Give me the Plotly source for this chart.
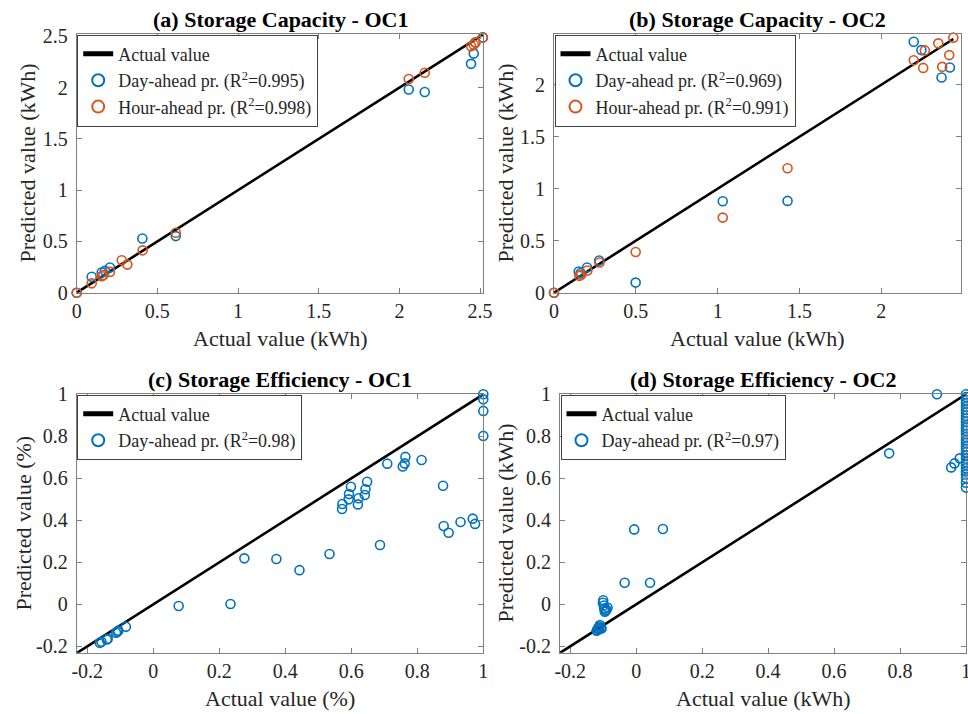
import plotly.graph_objects as go

# ---------------- data ----------------
# (a) Storage Capacity - OC1
a_day_x = [0, 0.093, 0.155, 0.175, 0.206, 0.407, 0.614, 2.058, 2.157, 2.444, 2.461, 2.470, 2.517]
a_day_y = [0, 0.155, 0.197, 0.213, 0.246, 0.529, 0.552, 1.981, 1.958, 2.232, 2.332, 2.440, 2.490]
a_hour_x = [0, 0.093, 0.155, 0.165, 0.206, 0.279, 0.314, 0.409, 0.614, 2.058, 2.157, 2.444, 2.461, 2.471, 2.517]
a_hour_y = [0, 0.091, 0.161, 0.171, 0.203, 0.316, 0.274, 0.413, 0.584, 2.084, 2.145, 2.403, 2.419, 2.439, 2.490]

# (b) Storage Capacity - OC2
b_day_x = [0, 0.151, 0.163, 0.202, 0.276, 0.499, 1.031, 1.427, 2.198, 2.245, 2.270, 2.368, 2.419]
b_day_y = [0, 0.204, 0.190, 0.243, 0.310, 0.097, 0.880, 0.883, 2.414, 2.333, 2.490, 2.069, 2.166]
b_hour_x = [0, 0.155, 0.166, 0.204, 0.278, 0.499, 1.031, 1.427, 2.198, 2.256, 2.266, 2.348, 2.372, 2.415, 2.440]
b_hour_y = [0, 0.162, 0.172, 0.214, 0.291, 0.392, 0.722, 1.197, 2.236, 2.162, 2.330, 2.398, 2.172, 2.285, 2.453]

# (c) Storage Efficiency - OC1
c_day_x = [-0.232, -0.162, -0.157, -0.141, -0.138, -0.113, -0.109, -0.106, -0.083,
           0.077, 0.234, 0.276, 0.373, 0.443, 0.534, 0.572, 0.573, 0.592, 0.593, 0.599,
           0.620, 0.622, 0.641, 0.643, 0.648, 0.687, 0.709, 0.756, 0.762, 0.764, 0.813,
           0.878, 0.880, 0.895, 0.931, 0.968, 0.975, 1.000, 1.000, 1.000, 1.000]
c_day_y = [-0.233, -0.183, -0.178, -0.167, -0.164, -0.135, -0.130, -0.125, -0.106,
           -0.008, 0.002, 0.219, 0.216, 0.163, 0.240, 0.454, 0.478, 0.500, 0.525, 0.560,
           0.476, 0.505, 0.521, 0.548, 0.584, 0.283, 0.670, 0.656, 0.671, 0.702, 0.687,
           0.565, 0.373, 0.341, 0.392, 0.408, 0.383, 1.000, 0.976, 0.921, 0.802]

# (d) Storage Efficiency - OC2
d_day_x = [-0.231, -0.120, -0.118, -0.115, -0.113, -0.112, -0.110, -0.107, -0.105,
           -0.101, -0.100, -0.098, -0.097, -0.095, -0.093, -0.090, -0.087,
           -0.035, -0.006, 0.042, 0.081, 0.767, 0.912, 0.955, 0.965, 0.981,
           1.0, 1.0, 1.0, 1.0, 1.0, 1.0, 1.0, 1.0, 1.0, 1.0, 1.0, 1.0, 1.0, 1.0, 1.0,
           1.0, 1.0, 1.0, 1.0, 1.0, 1.0, 1.0, 1.0, 1.0, 1.0, 1.0, 1.0, 1.0, 1.0, 1.0]
d_day_y = [-0.233, -0.125, -0.122, -0.112, -0.118, -0.105, -0.098, -0.110, -0.115,
           0.008, 0.020, -0.005, -0.020, -0.035, -0.030, -0.025, -0.015,
           0.103, 0.357, 0.103, 0.359, 0.719, 1.000, 0.652, 0.671, 0.695,
           1.000, 0.987, 0.972, 0.958, 0.941, 0.927, 0.913, 0.898, 0.884, 0.869,
           0.853, 0.840, 0.826, 0.811, 0.797, 0.782, 0.768, 0.752, 0.739, 0.724,
           0.709, 0.693, 0.678, 0.664, 0.648, 0.633, 0.619, 0.601, 0.579, 0.556]

x_ticks_cap = [0, 0.5, 1, 1.5, 2, 2.5]
x_ticktext_cap = ["0", "0.5", "1", "1.5", "2", "2.5"]
ticks_eff = [-0.2, 0, 0.2, 0.4, 0.6, 0.8, 1]
ticktext_eff = ["-0.2", "0", "0.2", "0.4", "0.6", "0.8", "1"]

titles = ["(a) Storage Capacity - OC1", "(b) Storage Capacity - OC2",
          "(c) Storage Efficiency - OC1", "(d) Storage Efficiency - OC2"]
xtitles = ["Actual value (kWh)", "Actual value (kWh)", "Actual value (%)", "Actual value (kWh)"]
ytitles = ["Predicted value (kWh)", "Predicted value (kWh)", "Predicted value (%)", "Predicted value (kWh)"]
r2_day = ["0.995", "0.969", "0.98", "0.97"]
r2_hour = ["0.998", "0.991"]

# --------------- styling ----------------
W, H = 968, 714
FONT = "Liberation Serif"
BLUE = "#0072BD"
ORANGE = "#D95319"
AX = "#808080"


def px(sx):
    return sx / W


def py(sy):
    return 1 - sy / H


# plot-area boxes in window pixels (left, right, top, bottom)
boxes = [(76.7, 483.3, 34.3, 292.7), (554.0, 960.7, 34.3, 292.7),
         (76.7, 483.3, 394.3, 652.7), (560.0, 966.0, 394.3, 652.7)]
ranges_x = [[0, 2.52], [0, 2.485], [-0.232, 1.0], [-0.231, 1.0]]
ranges_y = [[0, 2.52], [0, 2.485], [-0.23, 1.0], [-0.23, 1.0]]

fig = go.Figure()

datasets = [
    [(a_day_x, a_day_y, BLUE, r2_day[0]), (a_hour_x, a_hour_y, ORANGE, r2_hour[0])],
    [(b_day_x, b_day_y, BLUE, r2_day[1]), (b_hour_x, b_hour_y, ORANGE, r2_hour[1])],
    [(c_day_x, c_day_y, BLUE, r2_day[2])],
    [(d_day_x, d_day_y, BLUE, r2_day[3])],
]

for i, series in enumerate(datasets):
    sfx = "" if i == 0 else str(i + 1)
    xa, ya = "x" + sfx, "y" + sfx
    leg = "legend" + sfx
    allx = [v for s in series for v in s[0]]
    lo, hi = min(allx), max(allx)
    fig.add_trace(go.Scatter(x=[lo, hi], y=[lo, hi], mode="lines",
                             line=dict(color="black", width=2.6),
                             name="Actual value", xaxis=xa, yaxis=ya, legend=leg,
                             cliponaxis=False))
    for j, (sx, sy, col, r2) in enumerate(series):
        nm = ("Day-ahead pr." if j == 0 else "Hour-ahead pr.") + " (R<sup>2</sup>=" + r2 + ")"
        fig.add_trace(go.Scatter(x=sx, y=sy, mode="markers",
                                 marker=dict(symbol="circle-open", size=9, color=col,
                                             line=dict(width=1.6, color=col)),
                                 name=nm, xaxis=xa, yaxis=ya, legend=leg,
                                 cliponaxis=False))

layout = dict(template="none", width=W, height=H,
              margin=dict(l=0, r=0, t=0, b=0, autoexpand=False),
              paper_bgcolor="white", plot_bgcolor="white",
              font=dict(family=FONT, size=20, color="#262626"),
              showlegend=True)

annotations = []
for i, (l, r, t, b) in enumerate(boxes):
    sfx = "" if i == 0 else str(i + 1)
    if i < 2:
        tv = x_ticks_cap if i == 0 else x_ticks_cap[:-1]
        tt = x_ticktext_cap if i == 0 else x_ticktext_cap[:-1]
    else:
        tv, tt = ticks_eff, ticktext_eff
    common = dict(showline=True, linecolor=AX, linewidth=1, mirror="ticks",
                  ticks="inside", ticklen=5, tickcolor=AX, tickwidth=1,
                  showgrid=False, zeroline=False, automargin=False,
                  ticklabeloverflow="allow",
                  tickfont=dict(family=FONT, size=20, color="#262626"),
                  tickvals=tv, ticktext=tt)
    layout["xaxis" + sfx] = dict(common, domain=[px(l), min(px(r), 1.0)], range=ranges_x[i],
                                 anchor="y" + sfx)
    layout["yaxis" + sfx] = dict(common, domain=[py(b), py(t)], range=ranges_y[i],
                                 anchor="x" + sfx, ticklabelstandoff=4)
    layout["legend" + sfx] = dict(x=px(l + 0.5), y=py(t + 0.3), xanchor="left",
                                  yanchor="top", bgcolor="white", bordercolor="#404040",
                                  borderwidth=1, font=dict(family=FONT, size=18, color="#262626"),
                                  tracegroupgap=0, itemsizing="constant")
    cx = (l + r) / 2
    annotations.append(dict(text="<b>" + titles[i] + "</b>", x=px(cx), y=py(t - 15),
                            xref="paper", yref="paper", showarrow=False,
                            xanchor="center", yanchor="middle",
                            font=dict(family=FONT, size=22, color="black")))
    annotations.append(dict(text=xtitles[i], x=px(cx), y=py(b + 46),
                            xref="paper", yref="paper", showarrow=False,
                            xanchor="center", yanchor="middle",
                            font=dict(family=FONT, size=22, color="#262626")))
    ycx = [27, 505, 23, 505][i]
    annotations.append(dict(text=ytitles[i], x=px(ycx), y=py((t + b) / 2),
                            xref="paper", yref="paper", showarrow=False, textangle=-90,
                            xanchor="center", yanchor="middle",
                            font=dict(family=FONT, size=22, color="#262626")))

layout["annotations"] = annotations
fig.update_layout(**layout)
# remove the browser's default page margin so the 968x714 figure fills the window exactly
fig.write_html("out.html", config={"displayModeBar": False},
               post_script="document.body.style.margin='0';document.body.style.overflow='hidden';")
